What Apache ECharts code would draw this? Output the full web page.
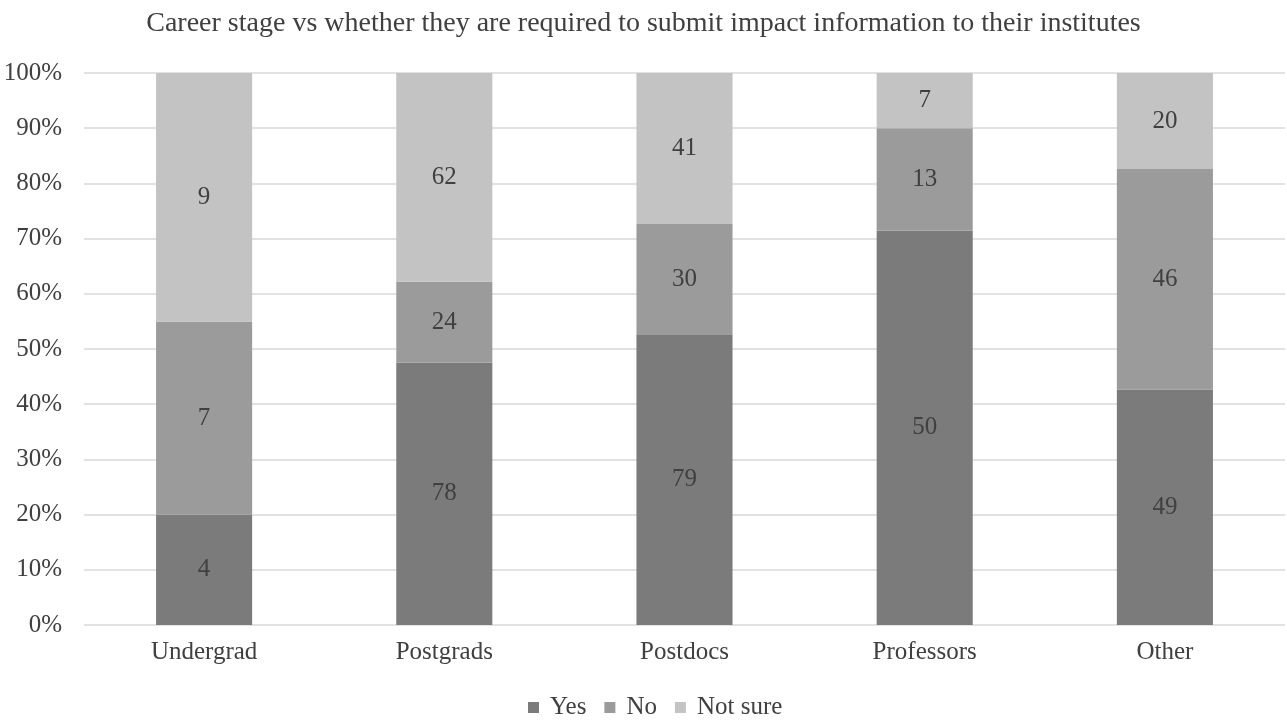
<!DOCTYPE html>
<html>
<head>
<meta charset="utf-8">
<script src="https://cdn.jsdelivr.net/npm/echarts@6/dist/echarts.min.js"></script>
<style>
  html, body { margin: 0; padding: 0; background: #fff; }
  #chart { width: 1287px; height: 722px; }
</style>
</head>
<body>
<div id="chart"></div>
<script>
// Survey response counts per career stage
const categories = ['Undergrad', 'Postgrads', 'Postdocs', 'Professors', 'Other'];
const yesCounts = [4, 78, 79, 50, 49];
const noCounts = [7, 24, 30, 13, 46];
const notSureCounts = [9, 62, 41, 7, 20];
const seriesNames = ['Yes', 'No', 'Not sure'];
const yTickLabels = ['0%', '10%', '20%', '30%', '40%', '50%', '60%', '70%', '80%', '90%', '100%'];

const totals = categories.map((_, i) => yesCounts[i] + noCounts[i] + notSureCounts[i]);
// Each bar segment is the share of the stage total; the label shows the raw count
function toShare(counts) {
  return counts.map((c, i) => ({ value: c / totals[i] * 100, count: c }));
}

const font = '"Liberation Serif", "DejaVu Serif", serif';
const textColor = '#404040';
const colors = ['#7b7b7b', '#9b9b9b', '#c3c3c3'];
const countLists = [yesCounts, noCounts, notSureCounts];

const chart = echarts.init(document.getElementById('chart'));
chart.setOption({
  animation: false,
  title: {
    text: 'Career stage vs whether they are required to submit impact information to their institutes',
    left: 'center',
    top: 5,
    textStyle: { fontFamily: font, fontSize: 28, fontWeight: 'normal', color: textColor }
  },
  legend: {
    data: seriesNames,
    top: 690,
    left: 523,
    padding: 5,
    icon: 'rect',
    itemWidth: 11,
    itemHeight: 11,
    itemGap: 18,
    textStyle: { fontFamily: font, fontSize: 25, color: textColor, padding: [0, 0, 0, 6] }
  },
  grid: { left: 84, right: 2, top: 73, bottom: 97, containLabel: false },
  xAxis: {
    type: 'category',
    data: categories,
    axisLine: { show: false },
    axisTick: { show: false },
    axisLabel: { fontFamily: font, fontSize: 25, color: textColor, margin: 15 }
  },
  yAxis: {
    type: 'value',
    min: 0,
    max: 100,
    interval: 10,
    axisLine: { show: false },
    axisTick: { show: false },
    splitLine: { lineStyle: { color: '#d9d9d9', width: 1.5 } },
    axisLabel: {
      fontFamily: font, fontSize: 25, color: textColor, margin: 22,
      formatter: (v) => yTickLabels[Math.round(v / 10)]
    }
  },
  series: seriesNames.map((name, k) => ({
    name: name,
    type: 'bar',
    stack: 'total',
    barWidth: '40%',
    data: toShare(countLists[k]),
    itemStyle: { color: colors[k] },
    label: {
      show: true,
      position: 'inside',
      fontFamily: font,
      fontSize: 25,
      color: textColor,
      formatter: (p) => String(p.data.count)
    }
  }))
});
</script>
</body>
</html>
